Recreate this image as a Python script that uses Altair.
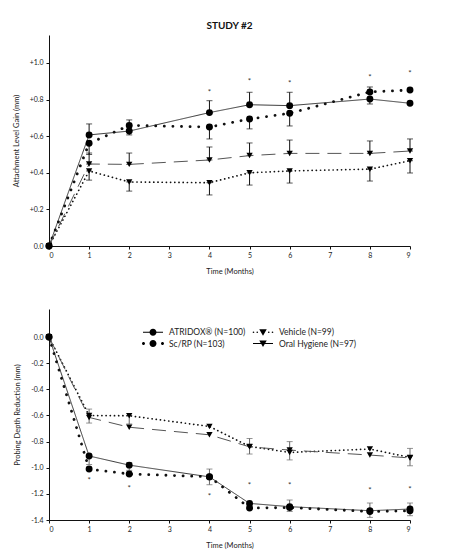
import altair as alt
import pandas as pd

# ---------------- data ----------------
months = [0, 1, 2, 4, 5, 6, 8, 9]
series = ["ATRIDOX® (N=100)", "Sc/RP (N=103)", "Vehicle (N=99)", "Oral Hygiene (N=97)"]

# Study #2 - attachment level gain (mm)
alg_atridox = [0.0, 0.607, 0.628, 0.729, 0.772, 0.767, 0.803, 0.780]
alg_scrp = [0.0, 0.561, 0.659, 0.650, 0.694, 0.725, 0.842, 0.852]
alg_vehicle = [0.0, 0.410, 0.350, 0.346, 0.400, 0.410, 0.420, 0.466]
alg_oral = [0.0, 0.448, 0.446, 0.470, 0.494, 0.506, 0.506, 0.519]

# probing depth reduction (mm)
pdr_atridox = [0.0, -0.910, -0.980, -1.070, -1.273, -1.298, -1.329, -1.316]
pdr_scrp = [0.0, -1.010, -1.048, -1.069, -1.308, -1.305, -1.335, -1.330]
pdr_vehicle = [0.0, -0.600, -0.602, -0.684, -0.837, -0.883, -0.857, -0.921]
pdr_oral = [0.0, -0.615, -0.690, -0.748, -0.840, -0.865, -0.903, -0.925]

# error bars (month, low, high)
alg_err_month = [1, 1, 1, 1, 2, 2, 2, 2, 4, 4, 4, 4, 5, 5, 5, 5, 6, 6, 6, 6, 8, 8, 8, 8, 9, 9]
alg_err_lo = [0.607, 0.500, 0.448, 0.360, 0.607, 0.659, 0.446, 0.300, 0.729, 0.585, 0.470, 0.279,
              0.772, 0.640, 0.494, 0.333, 0.767, 0.656, 0.506, 0.344, 0.776, 0.842, 0.506, 0.355,
              0.519, 0.399]
alg_err_hi = [0.667, 0.561, 0.508, 0.410, 0.628, 0.689, 0.508, 0.350, 0.794, 0.650, 0.541, 0.346,
              0.840, 0.694, 0.563, 0.400, 0.840, 0.725, 0.579, 0.410, 0.803, 0.869, 0.574, 0.420,
              0.585, 0.466]

pdr_err_month = [1, 1, 2, 2, 4, 5, 6, 6, 8, 9, 9]
pdr_err_lo = [-0.658, -0.975, -0.665, -1.020, -1.130, -0.895, -0.940, -1.335, -1.380, -0.985, -1.367]
pdr_err_hi = [-0.551, -0.908, -0.600, -0.960, -1.010, -0.776, -0.800, -1.247, -1.270, -0.852, -1.270]

# significance asterisks
alg_star_month = [4, 5, 6, 8, 9]
alg_star_y = [0.847, 0.907, 0.896, 0.929, 0.951]
pdr_star_month = [1, 2, 4, 5, 6, 8, 9]
pdr_star_y = [-1.090, -1.145, -1.209, -1.125, -1.125, -1.166, -1.155]

# ---------------- styles ----------------
FONT = "Lato"
CIRCLE = "circle"
TRI = "triangle-down"
style = {
    "ATRIDOX® (N=100)": dict(dash=[1, 0], width=0.9, color="#222", cap="butt", shape=CIRCLE),
    "Sc/RP (N=103)": dict(dash=[0.1, 8.5], width=2.8, color="#111", cap="round", shape=CIRCLE),
    "Vehicle (N=99)": dict(dash=[0.1, 4.1], width=1.7, color="#111", cap="round", shape=TRI),
    "Oral Hygiene (N=97)": dict(dash=[14, 8], width=1.0, color="#555", cap="butt", shape=TRI),
}


# legend glyphs (unit square -1..1, drawn filled): line/dots + marker
def dot(cx, r):
    return f"M{cx + r},0A{r},{r},0,1,1,{cx - r},0A{r},{r},0,1,1,{cx + r},0Z"


BAR = "M-2,-0.1L2,-0.1L2,0.1L-2,0.1Z"
MARK_CIRCLE = dot(0, 0.7)
MARK_TRI = "M-0.75,-0.6L0.75,-0.6L0,0.7Z"
leg_shape = {
    "ATRIDOX® (N=100)": BAR + MARK_CIRCLE,
    "Sc/RP (N=103)": dot(-1.9, 0.3) + dot(1.9, 0.3) + MARK_CIRCLE,
    "Vehicle (N=99)": dot(-1.9, 0.17) + dot(-1.15, 0.17) + dot(1.15, 0.17) + dot(1.9, 0.17) + MARK_TRI,
    "Oral Hygiene (N=97)": BAR + MARK_TRI,
}


def long_df(vals_list):
    rows = []
    for name, vals in zip(series, vals_list):
        for m, v in zip(months, vals):
            rows.append({"series": name, "month": m, "value": v})
    return pd.DataFrame(rows)


def panel(df, err_m, err_lo, err_hi, star_m, star_y, domain, ticks, ytitle, label_expr,
          err_color, with_legend):
    xscale = alt.Scale(domain=[0, 9], nice=False, zero=False)
    yscale = alt.Scale(domain=domain, nice=False, zero=False)
    xaxis = alt.Axis(values=list(range(10)), format="d", tickSize=3, labelPadding=2,
                     titlePadding=9, grid=False, labelOverlap=False)
    yaxis = alt.Axis(values=ticks, labelExpr=label_expr, tickSize=3, labelPadding=3,
                     titlePadding=9, grid=False, labelOverlap=False)

    def X(f):
        return alt.X(f, title="Time (Months)", scale=xscale, axis=xaxis)

    def Y(f):
        return alt.Y(f, title=ytitle, scale=yscale, axis=yaxis)

    err_df = pd.DataFrame({"month": err_m, "lo": err_lo, "hi": err_hi})
    err_base = alt.Chart(err_df)
    err_rule = err_base.mark_rule(color=err_color, strokeWidth=1).encode(
        x=X("month:Q"), y=Y("lo:Q"), y2="hi:Q")
    cap_lo = err_base.mark_tick(color=err_color, thickness=1, size=6, orient="horizontal").encode(
        x=X("month:Q"), y=Y("lo:Q"))
    cap_hi = err_base.mark_tick(color=err_color, thickness=1, size=6, orient="horizontal").encode(
        x=X("month:Q"), y=Y("hi:Q"))

    layers = [err_rule, cap_lo, cap_hi]
    base = alt.Chart(df)
    for name in series:
        st = style[name]
        sub = base.transform_filter(alt.datum.series == name)
        layers.append(sub.mark_line(color=st["color"], strokeWidth=st["width"],
                                    strokeDash=st["dash"], strokeCap=st["cap"]).encode(
            x=X("month:Q"), y=Y("value:Q")))
    for name in series:
        st = style[name]
        sub = base.transform_filter(alt.datum.series == name)
        layers.append(sub.mark_point(shape=st["shape"], filled=True, color="black", opacity=1,
                                     size=48 if st["shape"] == CIRCLE else 40).encode(
            x=X("month:Q"), y=Y("value:Q")))

    star_df = pd.DataFrame({"month": star_m, "value": star_y})
    layers.append(alt.Chart(star_df).mark_text(text="*", font=FONT, fontSize=8, color="#333",
                                               baseline="middle", dy=2).encode(
        x=X("month:Q"), y=Y("value:Q")))

    if with_legend:
        leg = base.transform_filter("datum.month < 0").mark_point(
            filled=True, color="black", size=100, opacity=1
        ).encode(
            x=X("month:Q"), y=Y("value:Q"),
            shape=alt.Shape("series:N", scale=alt.Scale(domain=series,
                                                        range=[leg_shape[s] for s in series]),
                            legend=alt.Legend(orient="none", legendX=99, legendY=18, columns=2,
                                              title=None, labelFont=FONT, labelFontSize=8.5,
                                              labelColor="#222", symbolSize=100,
                                              symbolFillColor="black", symbolOpacity=1,
                                              symbolStrokeWidth=0,
                                              labelOffset=11, gridAlign="each",
                                              columnPadding=6, rowPadding=1.5, padding=0)),
        )
        layers.append(leg)

    return alt.layer(*layers).properties(width=361, height=211)


top = panel(long_df([alg_atridox, alg_scrp, alg_vehicle, alg_oral]),
            alg_err_month, alg_err_lo, alg_err_hi, alg_star_month, alg_star_y,
            [0, 1.153], [0, 0.2, 0.4, 0.6, 0.8, 1.0], "Attachment Level Gain (mm)",
            "datum.value == 0 ? '0.0' : '+' + format(datum.value, '.1f')", "#111", False
            ).properties(title=alt.TitleParams("STUDY #2", fontSize=10, fontWeight="bold", font=FONT,
                                               anchor="middle", offset=4, color="#111"))

bottom = panel(long_df([pdr_atridox, pdr_scrp, pdr_vehicle, pdr_oral]),
               pdr_err_month, pdr_err_lo, pdr_err_hi, pdr_star_month, pdr_star_y,
               [-1.4, 0.215], [0, -0.2, -0.4, -0.6, -0.8, -1.0, -1.2, -1.4], "Probing Depth Reduction (mm)",
               "datum.value == 0 ? '0.0' : '-' + format(-datum.value, '.1f')", "#666", True)

chart = alt.vconcat(top, bottom, spacing=34).resolve_scale(
    shape="independent"
).resolve_legend(shape="independent").properties(
    padding={"top": 13, "left": 4, "right": 5, "bottom": 5}
).configure_view(stroke=None).configure_axis(
    labelFont=FONT, titleFont=FONT, labelFontSize=7, titleFontSize=7.5, titleFontWeight="normal",
    labelColor="#222", titleColor="#222", domainColor="#111", tickColor="#111", domainWidth=1
)

chart.save("out.html", embed_options={"renderer": "svg", "actions": False})
